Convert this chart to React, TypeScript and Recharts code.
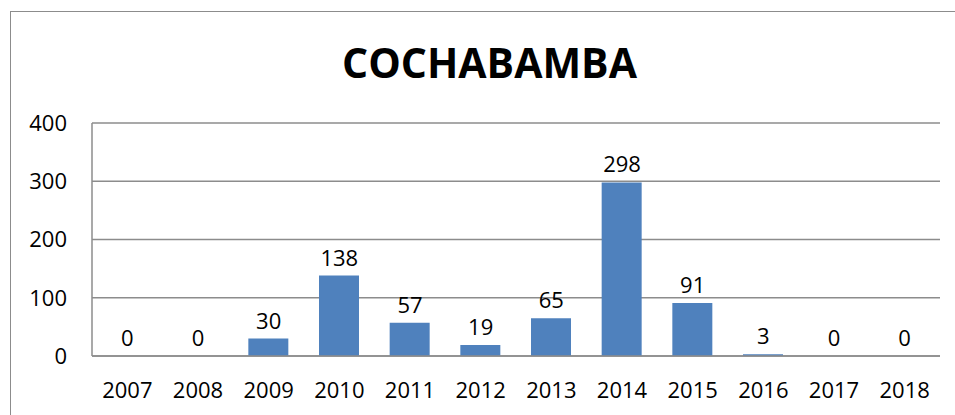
import React from 'react';
import { ComposedChart, Bar, Line, XAxis, YAxis, CartesianGrid } from 'recharts';

const years = ['2007', '2008', '2009', '2010', '2011', '2012', '2013', '2014', '2015', '2016', '2017', '2018'];
const cases = [0, 0, 30, 138, 57, 19, 65, 298, 91, 3, 0, 0];
const yTicks = [0, 100, 200, 300, 400];

const data = years.map((year, i) => ({ year, value: cases[i] }));

const FONT = '"Open Sans", sans-serif';

export default function App() {
  return (
    <div style={{ position: 'absolute', left: 0, top: 0, width: 955, height: 415, overflow: 'hidden', background: '#fff' }}>
      <div
        style={{
          position: 'absolute',
          left: 10,
          top: 11,
          width: 980,
          height: 440,
          border: '1.5px solid #8c8c8c',
        }}
      />
      <div
        style={{
          position: 'absolute',
          left: 0,
          width: 979,
          top: 34,
          textAlign: 'center',
          fontFamily: FONT,
          fontWeight: 700,
          fontSize: 41,
          lineHeight: '56px',
          color: '#000',
        }}
      >
        COCHABAMBA
      </div>
      <div style={{ position: 'absolute', left: 0, top: 0 }}>
        <ComposedChart
          width={955}
          height={415}
          data={data}
          margin={{ top: 123, right: 15, bottom: 29, left: 0 }}
        >
          <CartesianGrid vertical={false} stroke='#8c8c8c' strokeWidth={1.5} />
          <XAxis
            dataKey='year'
            height={30}
            tickLine={false}
            tickSize={0}
            tickMargin={26}
            axisLine={{ stroke: '#8c8c8c', strokeWidth: 1.5 }}
            tick={{ fill: '#000', fontSize: 22, fontFamily: FONT }}
          />
          <YAxis
            width={92}
            domain={[0, 400]}
            ticks={yTicks}
            tickLine={false}
            tickSize={0}
            tickMargin={25}
            axisLine={{ stroke: '#8c8c8c', strokeWidth: 1.5 }}
            tick={{ fill: '#000', fontSize: 22, fontFamily: FONT }}
          />
          <Bar dataKey='value' fill='#4f81bd' barSize={40} isAnimationActive={false} />
          <Line
            dataKey='value'
            stroke='none'
            dot={false}
            activeDot={false}
            isAnimationActive={false}
            label={{ position: 'top', offset: 10, fill: '#000', fontSize: 22, fontFamily: FONT }}
          />
        </ComposedChart>
      </div>
    </div>
  );
}
